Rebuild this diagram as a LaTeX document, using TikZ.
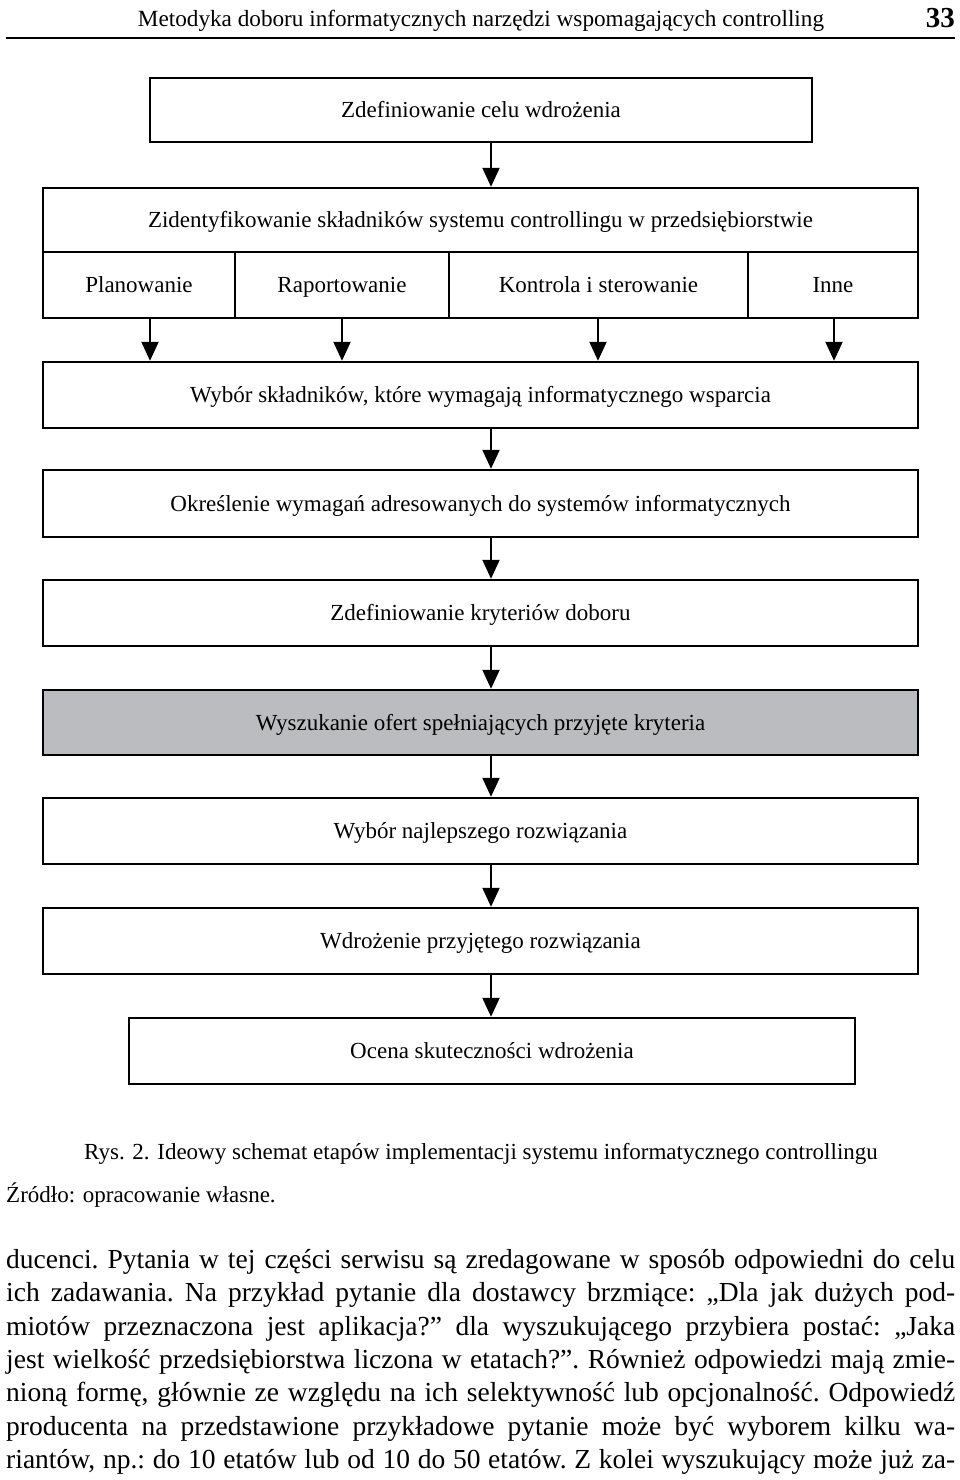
\documentclass[tikz,border=0pt]{standalone}
\usepackage{fontspec}
\setmainfont{Liberation Serif}
\usetikzlibrary{arrows.meta}
\definecolor{boxgray}{RGB}{187,188,191}
\newcommand{\boxfont}{\fontsize{23}{27}\selectfont}
\newcommand{\bodyfont}{\fontsize{27.5}{33}\selectfont\frenchspacing}
\newcommand{\bodyline}[1]{\makebox[949pt][s]{#1}}
\tikzset{
  stagebox/.style={draw, line width=2.4pt, inner sep=0pt, font=\boxfont, anchor=center, text height=19pt, text depth=4pt},
  cellbox/.style={stagebox, minimum height=66pt},
  arr/.style={line width=2pt, -{Triangle[length=19pt,width=17pt]}},
  bodytxt/.style={anchor=base west, inner sep=0pt, font=\bodyfont}
}
\begin{document}
\begin{tikzpicture}[x=1pt,y=-1pt]
\useasboundingbox (0,0) rectangle (960,1480);
% header
\node[anchor=base, inner sep=0pt, font=\fontsize{23.2}{27}\selectfont] (head) at (481,27) {Metodyka doboru informatycznych narzędzi wspomagających controlling};
\node[anchor=base east, inner sep=0pt, font=\fontsize{29}{32}\selectfont\bfseries] (pg) at (955,28) {33};
\coordinate (hl) at (6,38);
\coordinate (hr) at (955,38);
\draw[line width=2.5pt] (hl) -- (hr);
% boxes
\node[stagebox, minimum width=662pt, minimum height=64pt] (b1) at (481,110) {Zdefiniowanie celu wdrożenia};
\node[stagebox, minimum width=875pt, minimum height=64pt] (b2) at (480.5,220) {Zidentyfikowanie składników systemu controllingu w przedsiębiorstwie};
\node[cellbox, minimum width=192pt] (c1) at (139,285) {Planowanie};
\node[cellbox, minimum width=214pt] (c2) at (342,285) {Raportowanie};
\node[cellbox, minimum width=299pt] (c3) at (598.5,285) {Kontrola i sterowanie};
\node[cellbox, minimum width=170pt] (c4) at (833,285) {Inne};
\node[stagebox, minimum width=875pt, minimum height=66pt] (b3) at (480.5,395) {Wybór składników, które wymagają informatycznego wsparcia};
\node[stagebox, minimum width=875pt, minimum height=67pt] (b4) at (480.5,503.5) {Określenie wymagań adresowanych do systemów informatycznych};
\node[stagebox, minimum width=875pt, minimum height=66pt] (b5) at (480.5,613) {Zdefiniowanie kryteriów doboru};
\node[stagebox, fill=boxgray, minimum width=875pt, minimum height=65pt] (b6) at (480.5,722.5) {Wyszukanie ofert spełniających przyjęte kryteria};
\node[stagebox, minimum width=875pt, minimum height=66pt] (b7) at (480.5,831) {Wybór najlepszego rozwiązania};
\node[stagebox, minimum width=875pt, minimum height=66pt] (b8) at (480.5,941) {Wdrożenie przyjętego rozwiązania};
\node[stagebox, minimum width=726pt, minimum height=66pt] (b9) at (492,1051) {Ocena skuteczności wdrożenia};
% arrows
\coordinate (ax) at (491,0);
\coordinate (a1) at (150,0);
\coordinate (a2) at (342,0);
\coordinate (a3) at (598,0);
\coordinate (a4) at (834,0);
\draw[arr] (b1.south -| ax) -- (b2.north -| ax);
\draw[arr] (c1.south -| a1) -- (b3.north -| a1);
\draw[arr] (c2.south -| a2) -- (b3.north -| a2);
\draw[arr] (c3.south -| a3) -- (b3.north -| a3);
\draw[arr] (c4.south -| a4) -- (b3.north -| a4);
\draw[arr] (b3.south -| ax) -- (b4.north -| ax);
\draw[arr] (b4.south -| ax) -- (b5.north -| ax);
\draw[arr] (b5.south -| ax) -- (b6.north -| ax);
\draw[arr] (b6.south -| ax) -- (b7.north -| ax);
\draw[arr] (b7.south -| ax) -- (b8.north -| ax);
\draw[arr] (b8.south -| ax) -- (b9.north -| ax);
% caption
\node[anchor=base, inner sep=0pt, font=\boxfont] (cap) at (481,1159) {Rys. 2. Ideowy schemat etapów implementacji systemu informatycznego controllingu};
\node[anchor=base west, inner sep=0pt, font=\boxfont] (src) at (6,1202) {Źródło: opracowanie własne.};
% body text
\node[bodytxt] (l1) at (6,1268) {\bodyline{ducenci. Pytania w tej części serwisu są zredagowane w sposób odpowiedni do celu}};
\node[bodytxt] (l2) at (6,1301) {\bodyline{ich zadawania. Na przykład pytanie dla dostawcy brzmiące: „Dla jak dużych pod-}};
\node[bodytxt] (l3) at (6,1335) {\bodyline{miotów przeznaczona jest aplikacja?” dla wyszukującego przybiera postać: „Jaka}};
\node[bodytxt] (l4) at (6,1368) {\bodyline{jest wielkość przedsiębiorstwa liczona w etatach?”. Również odpowiedzi mają zmie-}};
\node[bodytxt] (l5) at (6,1401) {\bodyline{nioną formę, głównie ze względu na ich selektywność lub opcjonalność. Odpowiedź}};
\node[bodytxt] (l6) at (6,1435) {\bodyline{producenta na przedstawione przykładowe pytanie może być wyborem kilku wa-}};
\node[bodytxt] (l7) at (6,1468) {\bodyline{riantów, np.: do 10 etatów lub od 10 do 50 etatów. Z kolei wyszukujący może już za-}};
\end{tikzpicture}
\end{document}
